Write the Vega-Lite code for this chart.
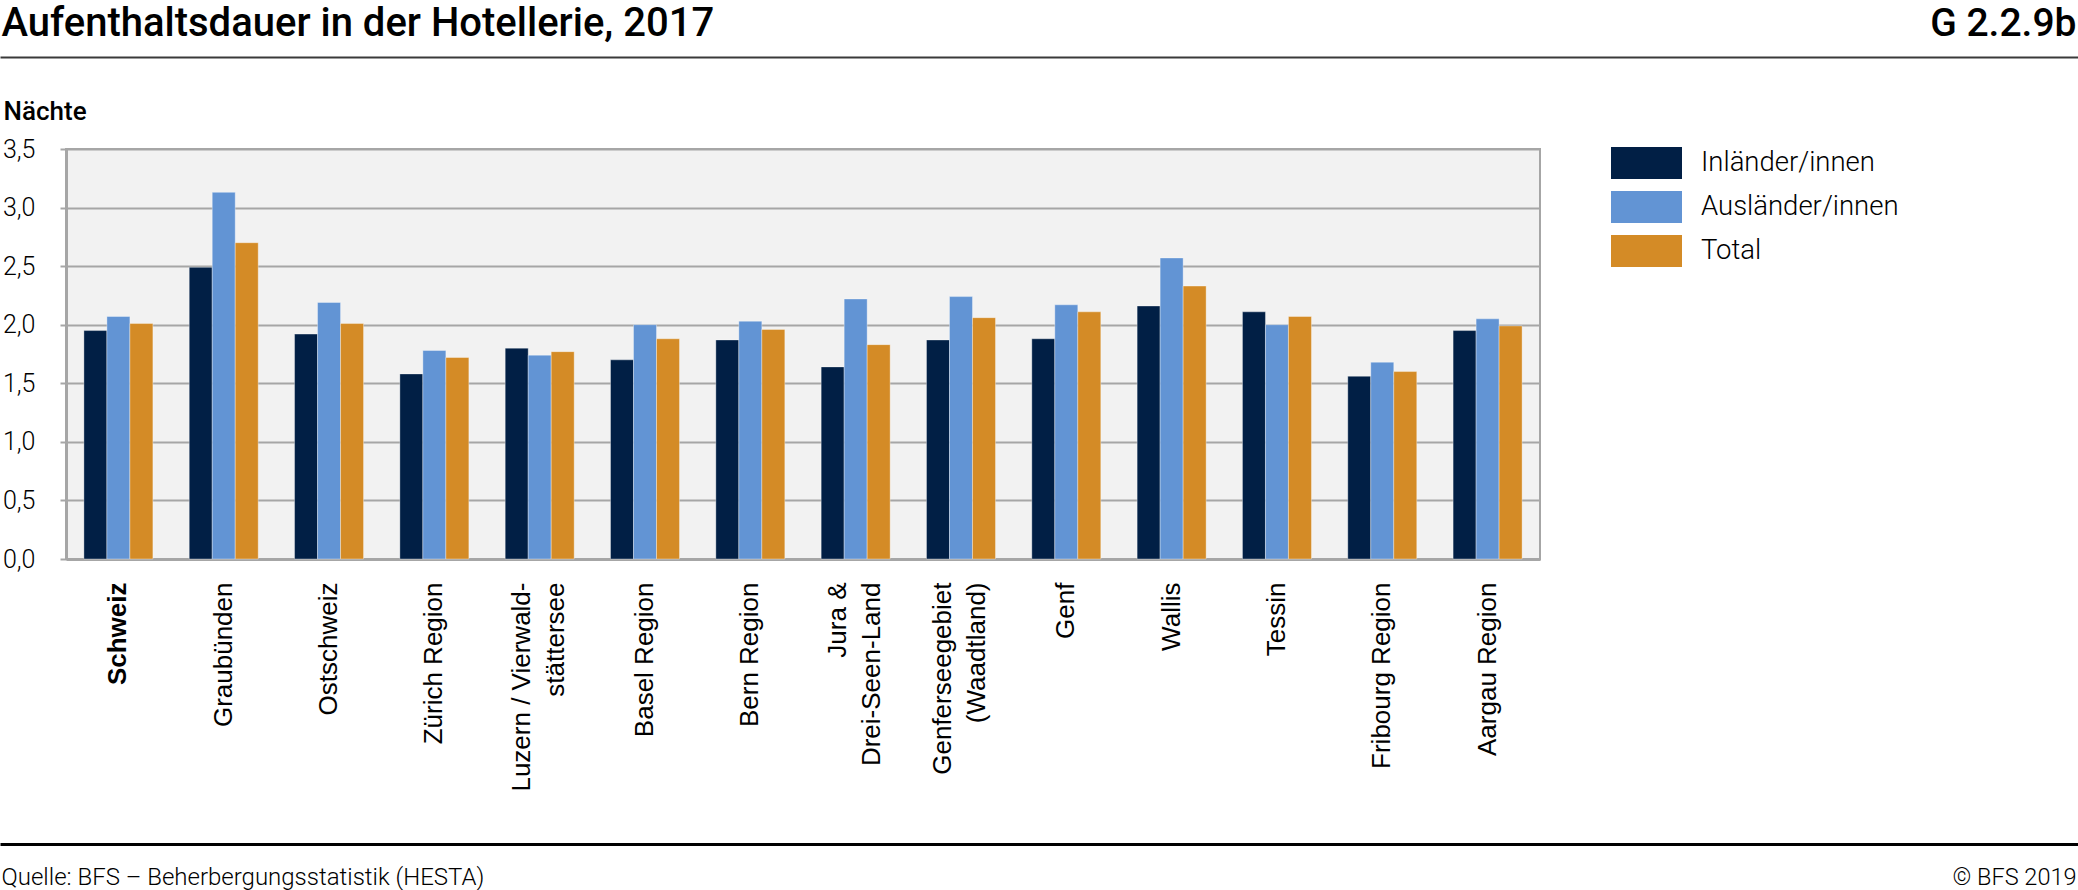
{
  "$schema": "https://vega.github.io/schema/vega-lite/v6.json",
  "width": 1474,
  "height": 410,
  "autosize": {"type": "none"},
  "padding": {"left": 66, "top": 149, "right": 538, "bottom": 331},
  "background": "white",
  "config": {
    "view": {"fill": "#f2f2f2", "stroke": "#a6a6a6", "strokeWidth": 2},
    "font": "Roboto"
  },
  "datasets": {
    "werte": [
      {"region": "Schweiz", "gruppe": "Inländer/innen", "naechte": 1.95},
      {"region": "Schweiz", "gruppe": "Ausländer/innen", "naechte": 2.07},
      {"region": "Schweiz", "gruppe": "Total", "naechte": 2.01},
      {"region": "Graubünden", "gruppe": "Inländer/innen", "naechte": 2.49},
      {"region": "Graubünden", "gruppe": "Ausländer/innen", "naechte": 3.13},
      {"region": "Graubünden", "gruppe": "Total", "naechte": 2.70},
      {"region": "Ostschweiz", "gruppe": "Inländer/innen", "naechte": 1.92},
      {"region": "Ostschweiz", "gruppe": "Ausländer/innen", "naechte": 2.19},
      {"region": "Ostschweiz", "gruppe": "Total", "naechte": 2.01},
      {"region": "Zürich Region", "gruppe": "Inländer/innen", "naechte": 1.58},
      {"region": "Zürich Region", "gruppe": "Ausländer/innen", "naechte": 1.78},
      {"region": "Zürich Region", "gruppe": "Total", "naechte": 1.72},
      {"region": "Luzern / Vierwaldstättersee", "gruppe": "Inländer/innen", "naechte": 1.80},
      {"region": "Luzern / Vierwaldstättersee", "gruppe": "Ausländer/innen", "naechte": 1.74},
      {"region": "Luzern / Vierwaldstättersee", "gruppe": "Total", "naechte": 1.77},
      {"region": "Basel Region", "gruppe": "Inländer/innen", "naechte": 1.70},
      {"region": "Basel Region", "gruppe": "Ausländer/innen", "naechte": 2.00},
      {"region": "Basel Region", "gruppe": "Total", "naechte": 1.88},
      {"region": "Bern Region", "gruppe": "Inländer/innen", "naechte": 1.87},
      {"region": "Bern Region", "gruppe": "Ausländer/innen", "naechte": 2.03},
      {"region": "Bern Region", "gruppe": "Total", "naechte": 1.96},
      {"region": "Jura & Drei-Seen-Land", "gruppe": "Inländer/innen", "naechte": 1.64},
      {"region": "Jura & Drei-Seen-Land", "gruppe": "Ausländer/innen", "naechte": 2.22},
      {"region": "Jura & Drei-Seen-Land", "gruppe": "Total", "naechte": 1.83},
      {"region": "Genferseegebiet (Waadtland)", "gruppe": "Inländer/innen", "naechte": 1.87},
      {"region": "Genferseegebiet (Waadtland)", "gruppe": "Ausländer/innen", "naechte": 2.24},
      {"region": "Genferseegebiet (Waadtland)", "gruppe": "Total", "naechte": 2.06},
      {"region": "Genf", "gruppe": "Inländer/innen", "naechte": 1.88},
      {"region": "Genf", "gruppe": "Ausländer/innen", "naechte": 2.17},
      {"region": "Genf", "gruppe": "Total", "naechte": 2.11},
      {"region": "Wallis", "gruppe": "Inländer/innen", "naechte": 2.16},
      {"region": "Wallis", "gruppe": "Ausländer/innen", "naechte": 2.57},
      {"region": "Wallis", "gruppe": "Total", "naechte": 2.33},
      {"region": "Tessin", "gruppe": "Inländer/innen", "naechte": 2.11},
      {"region": "Tessin", "gruppe": "Ausländer/innen", "naechte": 2.00},
      {"region": "Tessin", "gruppe": "Total", "naechte": 2.07},
      {"region": "Fribourg Region", "gruppe": "Inländer/innen", "naechte": 1.56},
      {"region": "Fribourg Region", "gruppe": "Ausländer/innen", "naechte": 1.68},
      {"region": "Fribourg Region", "gruppe": "Total", "naechte": 1.60},
      {"region": "Aargau Region", "gruppe": "Inländer/innen", "naechte": 1.95},
      {"region": "Aargau Region", "gruppe": "Ausländer/innen", "naechte": 2.05},
      {"region": "Aargau Region", "gruppe": "Total", "naechte": 1.99}
    ],
    "linie": [{"a": 0, "b": 0}, {"a": 1, "b": 1}]
  },
  "layer": [
    {
      "data": {"name": "werte"},
      "mark": {"type": "bar", "stroke": "white", "strokeOpacity": 0.35, "strokeWidth": 1},
      "encoding": {
        "x": {
          "field": "region", "type": "nominal", "sort": null,
          "scale": {"paddingInner": 0.345, "paddingOuter": 0.17},
          "axis": {
            "title": "© BFS 2019",
            "titleX": 2010, "titleY": 325,
            "titleAlign": "right", "titleBaseline": "alphabetic",
            "titleFont": "Roboto", "titleFontSize": 23.5, "titleFontWeight": 300, "titleColor": "black",
            "labelAngle": -90, "labelAlign": "right", "labelBaseline": "middle",
            "labelFont": "Liberation Sans", "labelFontSize": 26, "labelLineHeight": 34,
            "labelPadding": 23, "labelColor": "black", "labelLimit": 0,
            "labelFontWeight": {"condition": {"test": "datum.value === 'Schweiz'", "value": "bold"}, "value": "normal"},
            "labelOffset": {"condition": {"test": "datum.value === 'Luzern / Vierwaldstättersee' || datum.value === 'Jura & Drei-Seen-Land' || datum.value === 'Genferseegebiet (Waadtland)'", "value": -18}, "value": 0},
            "labelExpr": "datum.value === 'Luzern / Vierwaldstättersee' ? ['Luzern / Vierwald-', 'stättersee'] : datum.value === 'Jura & Drei-Seen-Land' ? ['Jura &', 'Drei-Seen-Land'] : datum.value === 'Genferseegebiet (Waadtland)' ? ['Genferseegebiet', '(Waadtland)'] : datum.value",
            "ticks": false, "domainColor": "#a6a6a6", "domainWidth": 3, "grid": false
          }
        },
        "xOffset": {
          "field": "gruppe", "type": "nominal",
          "sort": ["Inländer/innen", "Ausländer/innen", "Total"],
          "scale": {"paddingInner": 0, "paddingOuter": 0}
        },
        "y": {
          "field": "naechte", "type": "quantitative",
          "scale": {"domain": [0, 3.5], "nice": false, "zero": true},
          "axis": {
            "title": "Nächte", "titleAngle": 0, "titleAlign": "left", "titleBaseline": "alphabetic",
            "titleX": -63, "titleY": -30,
            "titleFont": "Roboto", "titleFontSize": 26, "titleFontWeight": 500, "titleColor": "black",
            "values": [0, 0.5, 1, 1.5, 2, 2.5, 3, 3.5],
            "labelExpr": "replace(format(datum.value, '.1f'), '.', ',')",
            "labelFont": "Roboto", "labelFontSize": 25, "labelFontWeight": 300, "labelColor": "black",
            "labelPadding": 25, "tickSize": 6, "tickColor": "#a6a6a6", "tickWidth": 2,
            "domainColor": "#a6a6a6", "domainWidth": 3,
            "grid": true, "gridColor": "#a6a6a6", "gridWidth": 2
          }
        },
        "color": {
          "field": "gruppe", "type": "nominal",
          "scale": {"domain": ["Inländer/innen", "Ausländer/innen", "Total"], "range": ["#011f45", "#6294d4", "#d48b26"]},
          "legend": {
            "orient": "none", "legendX": 1545, "legendY": -2, "direction": "vertical",
            "title": null, "padding": 0,
            "symbolType": "M-1,-0.45H1V0.45H-1Z", "symbolSize": 5041,
            "symbolStrokeWidth": 0, "symbolOpacity": 1,
            "clipHeight": 32, "rowPadding": 12, "labelOffset": 19,
            "labelFont": "Roboto", "labelFontSize": 27.5, "labelFontWeight": 300,
            "labelColor": "black", "labelLimit": 0
          }
        }
      }
    },
    {
      "data": {"name": "linie"},
      "mark": {"type": "point", "opacity": 0},
      "encoding": {
        "x": {
          "field": "a", "type": "quantitative",
          "scale": {"domain": [0, 1], "range": [-66, 2012], "nice": false, "zero": false},
          "axis": {
            "orient": "top", "offset": 92, "domain": true, "domainColor": "#3a3a3a", "domainWidth": 2,
            "ticks": false, "labels": false, "grid": false,
            "title": "Aufenthaltsdauer in der Hotellerie, 2017",
            "titleX": -65, "titleY": -22, "titleAlign": "left", "titleBaseline": "alphabetic",
            "titleFont": "Roboto", "titleFontSize": 40, "titleFontWeight": 500, "titleColor": "black"
          }
        },
        "y": {
          "field": "b", "type": "quantitative",
          "scale": {"domain": [0, 1], "nice": false},
          "axis": {
            "orient": "right", "domain": false, "ticks": false, "labels": false, "grid": false,
            "title": "G 2.2.9b", "titleAngle": 0, "titleX": 536, "titleY": -114,
            "titleAlign": "right", "titleBaseline": "alphabetic",
            "titleFont": "Roboto", "titleFontSize": 39, "titleFontWeight": 500, "titleColor": "black"
          }
        }
      }
    },
    {
      "data": {"name": "linie"},
      "mark": {"type": "point", "opacity": 0},
      "encoding": {
        "x": {
          "field": "a", "type": "quantitative",
          "scale": {"domain": [0, 1], "range": [-66, 2012], "nice": false, "zero": false},
          "axis": {
            "orient": "bottom", "offset": 285, "domain": true, "domainColor": "black", "domainWidth": 3,
            "ticks": false, "labels": false, "grid": false,
            "title": "Quelle: BFS – Beherbergungsstatistik (HESTA)",
            "titleX": -65, "titleY": 40, "titleAlign": "left", "titleBaseline": "alphabetic",
            "titleFont": "Roboto", "titleFontSize": 24, "titleFontWeight": 300, "titleColor": "black"
          }
        }
      }
    }
  ],
  "resolve": {
    "scale": {"x": "independent", "y": "independent"},
    "axis": {"x": "independent", "y": "independent"}
  }
}
